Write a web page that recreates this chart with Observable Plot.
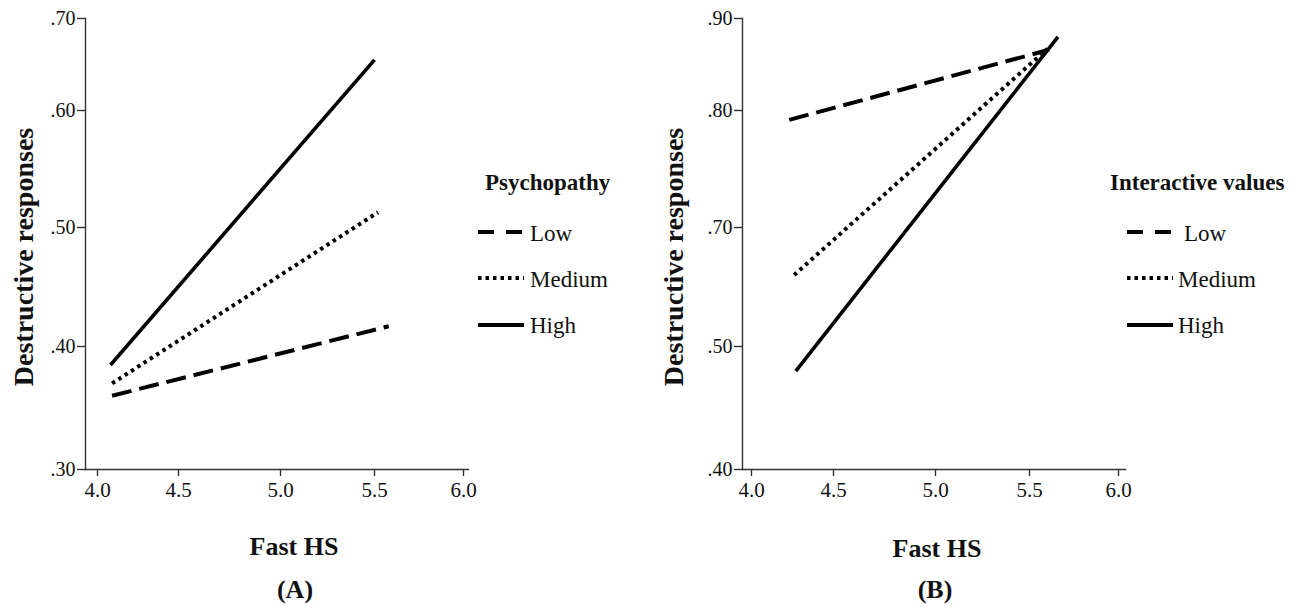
<!DOCTYPE html>
<html><head><meta charset="utf-8">
<script src="https://cdn.jsdelivr.net/npm/d3@7"></script>
<script src="https://cdn.jsdelivr.net/npm/@observablehq/plot@0.6"></script>
<style>
body{margin:0;background:#fff;width:1298px;height:608px;overflow:hidden;position:relative;font-family:"Liberation Serif","Times New Roman",Tinos,"DejaVu Serif",serif;}
#a,#b{position:absolute;top:0}
#a{left:0}
#b{left:650px}
#overlay{position:absolute;left:0;top:0}
</style></head><body>
<div id="a"></div><div id="b"></div>
<svg id="overlay" width="1298" height="608"></svg>
<script>
// ---- data ----
const levels = ["Low", "Medium", "High"];
const xTicks = [4.0, 4.5, 5.0, 5.5, 6.0];
const yTicksA = [0.30, 0.40, 0.50, 0.60, 0.70];
const yTicksB = [0.40, 0.50, 0.70, 0.80, 0.90];
// Panel A (Psychopathy): Low, Medium, High
const xStartA = [4.09, 4.09, 4.08];
const xEndA   = [5.58, 5.52, 5.50];
const yStartA = [0.360, 0.370, 0.385];
const yEndA   = [0.417, 0.513, 0.655];
// Panel B (Interactive values): Low, Medium, High
const xStartB = [4.23, 4.26, 4.27];
const xEndB   = [5.61, 5.60, 5.66];
const yStartB = [0.792, 0.620, 0.480];
const yEndB   = [0.866, 0.867, 0.880];
const legendTitles = ["Psychopathy", "Interactive values"];
const panelLabels = ["(A)", "(B)"];
const xLabel = "Fast HS";
const yLabel = "Destructive responses";

const FONT = "'Liberation Serif','Times New Roman',Tinos,'DejaVu Serif',serif";
const styles = {
  Low:    {strokeWidth: 4,   strokeDasharray: "20,8"},
  Medium: {strokeWidth: 4,   strokeDasharray: "3.5,4"},
  High:   {strokeWidth: 3.6, strokeDasharray: null}
};

function panel(xs0, xs1, ys0, ys1, yTicks, xRange, marginLeft, marginRight, width) {
  const H = 520;
  const rows = levels.flatMap((lv, i) => [
    {level: lv, x: xs0[i], y: ys0[i]},
    {level: lv, x: xs1[i], y: ys1[i]}
  ]);
  const lineMarks = levels.map(lv => Plot.line(rows.filter(d => d.level === lv), {
    x: "x", y: "y", stroke: "#000",
    strokeWidth: styles[lv].strokeWidth,
    strokeDasharray: styles[lv].strokeDasharray || undefined,
    strokeLinecap: "butt"
  }));
  const yFmt = d => d3.format(".2f")(d).replace(/^0/, "");
  return Plot.plot({
    width, height: H,
    marginLeft, marginRight, marginTop: 18, marginBottom: H - 469,
    style: {fontFamily: FONT, fontSize: "20px", color: "#111", background: "none", overflow: "visible"},
    x: {type: "linear", domain: xTicks, range: xRange},
    y: {type: "linear", domain: yTicks, range: [469, 346, 227, 110, 18]},
    marks: [
      Plot.frame({anchor: "left", stroke: "#333", strokeWidth: 1.4}),
      Plot.frame({anchor: "bottom", stroke: "#333", strokeWidth: 1.4}),
      Plot.axisX({ticks: xTicks, tickFormat: d3.format(".1f"), tickSize: 7, tickPadding: 6, label: null, stroke: "#333", strokeWidth: 1.4, fill: "#111", fontSize: 21}),
      Plot.axisY({ticks: yTicks, tickFormat: yFmt, tickSize: 8, tickPadding: 2, label: null, stroke: "#333", strokeWidth: 1.4, fill: "#111", fontSize: 20}),
      ...lineMarks
    ]
  });
}

document.getElementById("a").appendChild(
  panel(xStartA, xEndA, yStartA, yEndA, yTicksA, [97, 178, 280, 374, 463], 85, 17, 485));
document.getElementById("b").appendChild(
  panel(xStartB, xEndB, yStartB, yEndB, yTicksB, [101, 183, 285, 379, 468], 92, 15, 490));

// ---- titles & legends ----
const svg = d3.select("#overlay").style("font-family", FONT);
const panels = [
  {yl: [33, 257], xl: [294, 555], pl: [295, 598], legX: 478, titleX: 485, textX: [530, 530, 530]},
  {yl: [683, 257], xl: [937, 557], pl: [935, 598], legX: 1127, titleX: 1110, textX: [1184, 1178, 1178]}
];
const legendY = [232, 278, 325];
const legendBase = [241, 287, 333];
const swatchDash = {Low: "16,12", Medium: "3.5,4", High: null};
panels.forEach((p, k) => {
  svg.append("text").attr("transform", `translate(${p.yl[0]},${p.yl[1]}) rotate(-90)`)
    .attr("text-anchor", "middle").attr("font-weight", "bold").attr("font-size", 28).attr("fill", "#111").text(yLabel);
  svg.append("text").attr("x", p.xl[0]).attr("y", p.xl[1]).attr("text-anchor", "middle")
    .attr("font-weight", "bold").attr("font-size", 26).attr("fill", "#111").text(xLabel);
  svg.append("text").attr("x", p.pl[0]).attr("y", p.pl[1]).attr("text-anchor", "middle")
    .attr("font-weight", "bold").attr("font-size", 26).attr("fill", "#111").text(panelLabels[k]);
  svg.append("text").attr("x", p.titleX).attr("y", 190).attr("font-weight", "bold")
    .attr("font-size", 23).attr("fill", "#111").text(legendTitles[k]);
  levels.forEach((lv, i) => {
    const ln = svg.append("line").attr("x1", p.legX).attr("x2", p.legX + 46)
      .attr("y1", legendY[i]).attr("y2", legendY[i]).attr("stroke", "#000").attr("stroke-width", 4);
    if (swatchDash[lv]) ln.attr("stroke-dasharray", swatchDash[lv]);
    svg.append("text").attr("x", p.textX[i]).attr("y", legendBase[i]).attr("font-size", 23)
      .attr("fill", "#111").text(lv);
  });
});
</script>
</body></html>
